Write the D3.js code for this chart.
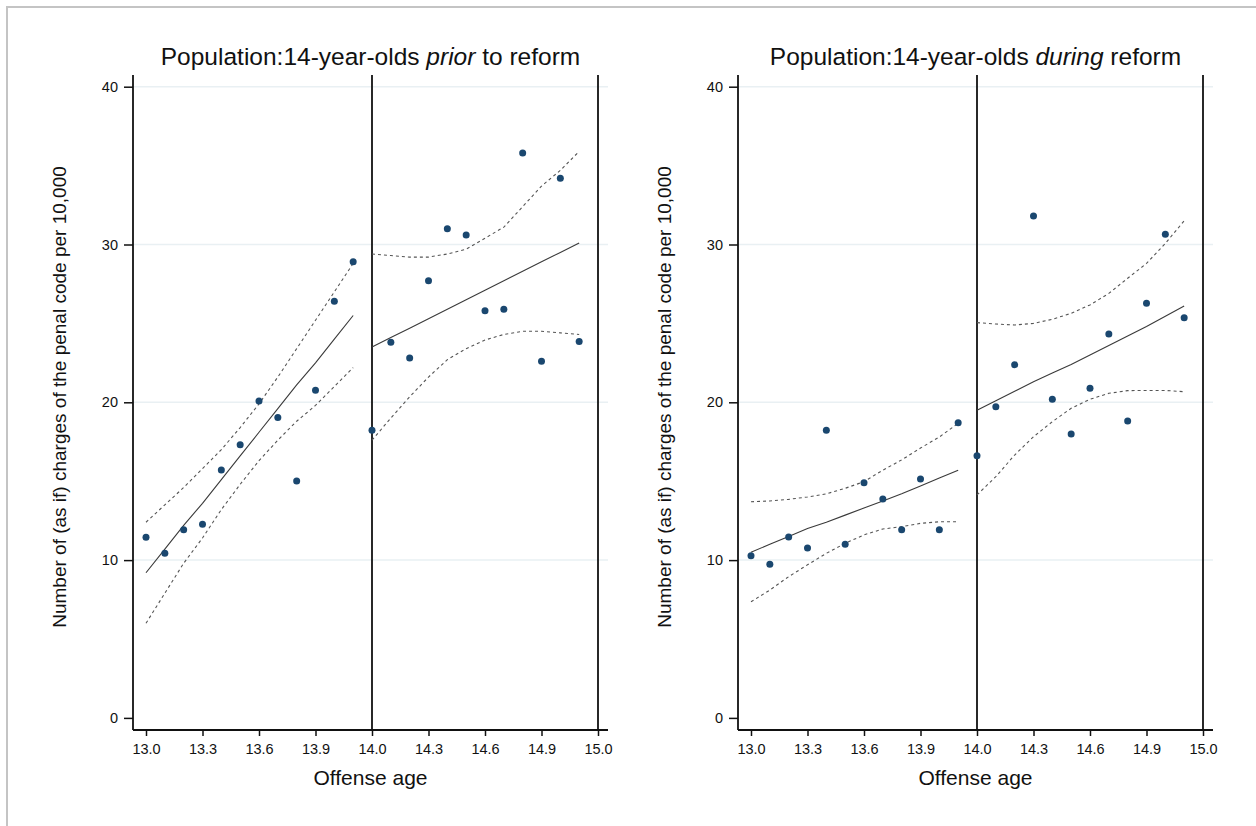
<!DOCTYPE html>
<html>
<head>
<meta charset="utf-8">
<script src="https://cdn.jsdelivr.net/npm/d3@7"></script>
<style>
  body { margin: 0; background: #fff; }
  text { font-family: "Liberation Sans", Arial, sans-serif; fill: #111; }
</style>
</head>
<body>
<script>
// months since 13th birthday, 0..23
var months = [0,1,2,3,4,5,6,7,8,9,10,11,12,13,14,15,16,17,18,19,20,21,22,23];
var tickMonths = [0,3,6,9,12,15,18,21,24];
var tickLabels = ["13.0","13.3","13.6","13.9","14.0","14.3","14.6","14.9","15.0"];
var yTicks = [0,10,20,30,40];

// prior to reform
var leftRate = [11.45,10.43,11.93,12.27,15.71,17.31,20.08,19.03,15.01,20.76,26.4,28.9,
                18.23,23.8,22.8,27.7,31.0,30.6,25.8,25.9,35.8,22.6,34.2,23.85];
var leftFit  = [9.2,10.7,12.2,13.6,15.1,16.6,18.1,19.6,21.1,22.5,24.0,25.5,
                23.5,24.1,24.7,25.3,25.9,26.5,27.1,27.7,28.3,28.9,29.5,30.1];
var leftHi   = [12.4,13.5,14.6,15.8,17.0,18.4,19.9,21.6,23.4,25.2,27.0,28.8,
                29.4,29.3,29.2,29.2,29.4,29.7,30.4,31.1,32.4,33.7,34.7,35.9];
var leftLo   = [6.0,7.9,9.8,11.4,13.2,14.8,16.3,17.6,18.8,19.8,21.0,22.2,
                17.6,19.0,20.35,21.6,22.7,23.4,23.95,24.3,24.5,24.5,24.4,24.3];

// during reform
var rightRate = [10.28,9.73,11.46,10.77,18.23,11.0,14.9,13.87,11.93,15.14,11.93,18.71,
                 16.62,19.72,22.38,31.8,20.19,17.99,20.89,24.33,18.81,26.27,30.65,25.36];
var rightFit  = [10.5,11.0,11.5,12.0,12.4,12.85,13.3,13.75,14.2,14.7,15.2,15.7,
                 19.5,20.1,20.7,21.3,21.85,22.4,23.0,23.6,24.2,24.8,25.45,26.1];
var rightHi   = [13.7,13.75,13.85,14.0,14.2,14.55,14.97,15.7,16.35,17.1,17.8,18.67,
                 25.05,24.96,24.9,25.0,25.26,25.64,26.17,26.9,27.86,28.8,30.07,31.5];
var rightLo   = [7.36,8.1,8.95,9.7,10.43,11.06,11.6,11.97,12.12,12.33,12.43,12.43,
                 14.13,15.29,16.66,17.82,18.77,19.62,20.19,20.57,20.74,20.75,20.75,20.67];

var svg = d3.select("body").append("svg")
    .attr("width", 1256)
    .attr("height", 826);

svg.append("rect").attr("width",1256).attr("height",826).attr("fill","#fff");
// outer frame (only left/top visible)
svg.append("path").attr("d","M7,826 V7 H1256").attr("fill","none")
    .attr("stroke","#c4c4c4").attr("stroke-width",2);

var y = d3.scaleLinear().domain([0,40]).range([717.9,86.7]);

function panel(left, title, italicWord, restWord, rate, fit, lo, hi) {
  var g = svg.append("g");
  var x0 = left + 13;   // data starts just right of the axis
  var x = d3.scaleLinear().domain([0,24]).range([x0, x0 + 452]);
  var top = 75, bottom = 730, right = left + 475;

  // gridlines
  g.selectAll(".grid").data(yTicks.filter(function(d){return d>0;})).enter().append("line")
    .attr("x1", left).attr("x2", right)
    .attr("y1", function(d){return y(d);}).attr("y2", function(d){return y(d);})
    .attr("stroke","#e9f0f3").attr("stroke-width",1.5);

  // y axis
  var ya = g.append("g").attr("transform","translate("+left+",0)")
    .call(d3.axisLeft(y).tickValues(yTicks).tickSize(9).tickPadding(6).tickSizeOuter(0));
  ya.select(".domain").remove();
  ya.selectAll(".tick line").attr("stroke","#111").attr("stroke-width",1.5);
  ya.selectAll(".tick text").attr("font-size",14.5).attr("fill","#111");
  g.append("line").attr("x1",left).attr("x2",left).attr("y1",top).attr("y2",bottom)
    .attr("stroke","#111").attr("stroke-width",1.8);

  // x axis
  var xa = g.append("g").attr("transform","translate(0,"+bottom+")")
    .call(d3.axisBottom(x).tickValues(tickMonths).tickSize(6).tickPadding(8)
      .tickFormat(function(d,i){return tickLabels[i];}).tickSizeOuter(0));
  xa.select(".domain").remove();
  xa.selectAll(".tick line").attr("stroke","#111").attr("stroke-width",1.5);
  xa.selectAll(".tick text").attr("font-size",14.5).attr("fill","#111");
  g.append("line").attr("x1",left).attr("x2",right).attr("y1",bottom).attr("y2",bottom)
    .attr("stroke","#111").attr("stroke-width",1.8);

  // cutoff lines at 14.0 and 15.0
  [12,24].forEach(function(m){
    g.append("line").attr("x1",x(m)).attr("x2",x(m)).attr("y1",top).attr("y2",bottom)
      .attr("stroke","#111").attr("stroke-width",1.8);
  });

  var line = function(arr){
    return d3.line().x(function(d){return x(d);}).y(function(d){return y(arr[d]);});
  };
  [months.slice(0,12), months.slice(12)].forEach(function(seg){
    g.append("path").attr("d", line(fit)(seg)).attr("fill","none")
      .attr("stroke","#3a3a3a").attr("stroke-width",1.1);
    [lo, hi].forEach(function(ci){
      g.append("path").attr("d", line(ci)(seg)).attr("fill","none")
        .attr("stroke","#555").attr("stroke-width",1.1).attr("stroke-dasharray","3,3");
    });
  });

  // points
  g.selectAll(".pt").data(months).enter().append("circle")
    .attr("cx", function(d){return x(d);})
    .attr("cy", function(d){return y(rate[d]);})
    .attr("r", 3.5).attr("fill","#1a476f");

  // titles
  var t = g.append("text").attr("x",(left+right)/2).attr("y",65)
    .attr("text-anchor","middle").attr("font-size",24.5);
  t.append("tspan").text(title);
  t.append("tspan").attr("font-style","italic").text(italicWord);
  t.append("tspan").text(restWord);

  g.append("text").attr("x",(left+right)/2).attr("y",785)
    .attr("text-anchor","middle").attr("font-size",21).text("Offense age");

  g.append("text").attr("transform","translate("+(left-67)+",397) rotate(-90)")
    .attr("text-anchor","middle").attr("font-size",19)
    .text("Number of (as if) charges of the penal code per 10,000");
}

panel(133, "Population:14-year-olds ", "prior", " to reform", leftRate, leftFit, leftLo, leftHi);
panel(738, "Population:14-year-olds ", "during", " reform", rightRate, rightFit, rightLo, rightHi);
</script>
</body>
</html>
